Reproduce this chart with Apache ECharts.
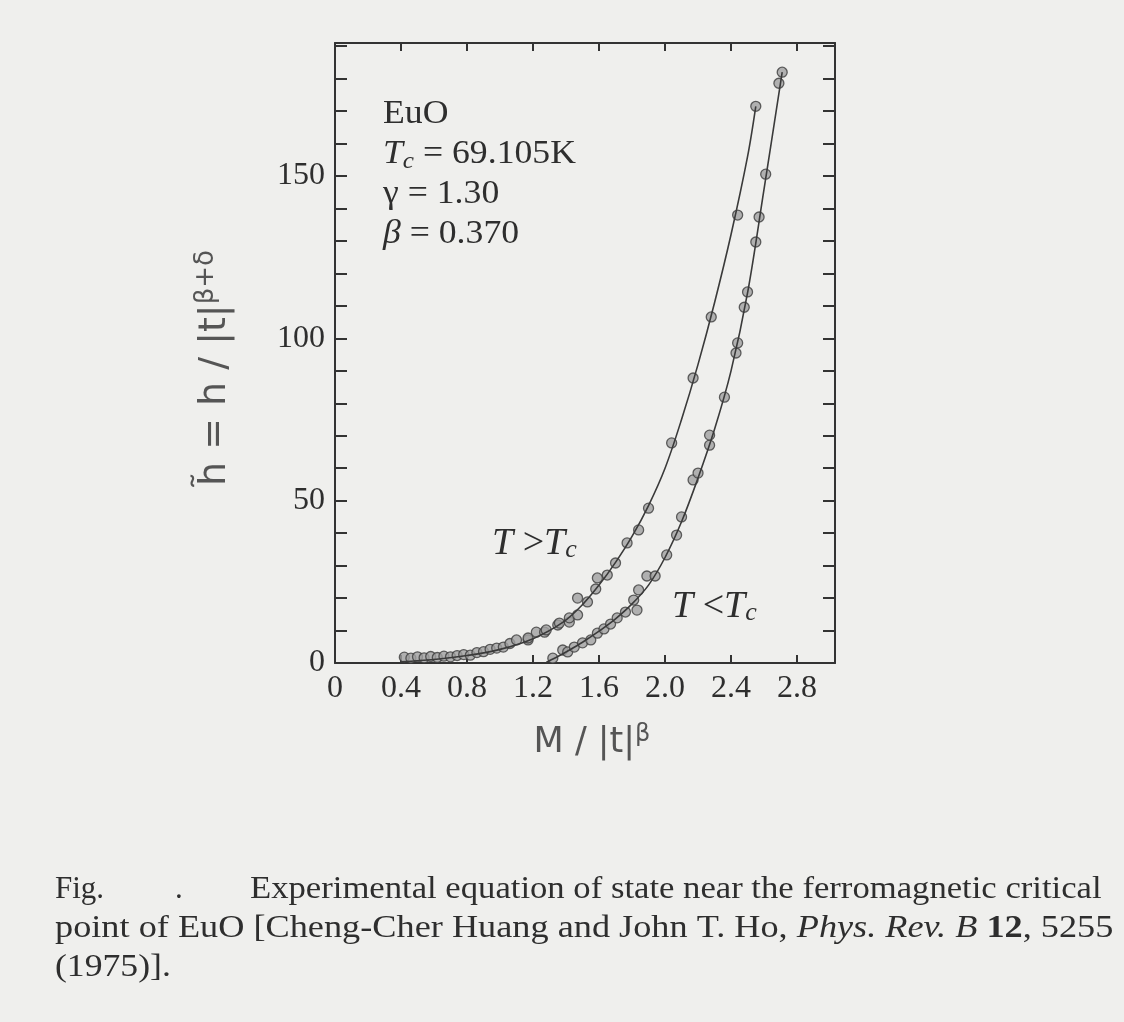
<!DOCTYPE html>
<html>
<head>
<meta charset="UTF-8">
<title>EuO equation of state</title>
<script src="https://cdn.jsdelivr.net/npm/echarts@6.0.0/dist/echarts.min.js"></script>
<style>
    html, body { margin: 0; padding: 0; background: #efefed; }
    #chart { width: 1124px; height: 1022px; }
</style>
</head>
<body>
<div id="chart"></div>
<script type="text/javascript">
    // axis labels that are printed
    var xLabels = [0, 0.4, 0.8, 1.2, 1.6, 2.0, 2.4, 2.8];
    var yLabels = [0, 50, 100, 150];

    // fitted curves
    var aboveFit = [[0.40, 0.4], [0.60, 1.1], [0.80, 2.3], [1.00, 4.2], [1.20, 7.5], [1.38, 12.5],
        [1.50, 18.0], [1.60, 24.0], [1.70, 31.0], [1.80, 39.0], [1.90, 48.5], [2.00, 60.0],
        [2.10, 75.0], [2.20, 92.0], [2.30, 111.0], [2.40, 132.0], [2.50, 156.0], [2.55, 171.5]];
    var belowFit = [[1.28, 0.2], [1.35, 2.0], [1.40, 3.4], [1.50, 6.4], [1.60, 9.8], [1.70, 13.6],
        [1.80, 18.2], [1.90, 24.0], [2.00, 32.5], [2.10, 43.5], [2.20, 57.0], [2.30, 72.0],
        [2.40, 90.0], [2.50, 114.0], [2.60, 146.0], [2.71, 182.0]];

    // measured points
    var abovePts = [[0.42, 1.8], [0.46, 1.5], [0.50, 1.9], [0.54, 1.6], [0.58, 2.0], [0.62, 1.7],
        [0.66, 2.1], [0.70, 1.9], [0.74, 2.3], [0.78, 2.6], [0.82, 2.4], [0.86, 3.2], [0.90, 3.5],
        [0.94, 4.2], [0.98, 4.6], [1.02, 4.9], [1.06, 6.0], [1.10, 7.1], [1.17, 7.1], [1.17, 7.7],
        [1.22, 9.5], [1.27, 9.5], [1.28, 10.2], [1.35, 11.7], [1.36, 12.3], [1.42, 12.6],
        [1.42, 13.9], [1.47, 14.8], [1.47, 20.0], [1.53, 18.8], [1.58, 22.8], [1.59, 26.2],
        [1.65, 27.1], [1.70, 30.8], [1.77, 37.0], [1.84, 41.0], [1.90, 47.7], [2.04, 67.8],
        [2.17, 87.8], [2.28, 106.6], [2.44, 138.0], [2.55, 171.5]];
    var belowPts = [[1.32, 1.5], [1.38, 4.0], [1.41, 3.4], [1.45, 4.9], [1.50, 6.2], [1.55, 7.1],
        [1.59, 9.2], [1.63, 10.5], [1.67, 12.0], [1.71, 13.9], [1.76, 15.7], [1.83, 16.3],
        [1.81, 19.4], [1.84, 22.5], [1.89, 26.8], [1.94, 26.8], [2.01, 33.3], [2.07, 39.4],
        [2.10, 45.0], [2.17, 56.4], [2.20, 58.5], [2.27, 67.1], [2.27, 70.2], [2.36, 81.9],
        [2.43, 95.5], [2.44, 98.6], [2.48, 109.6], [2.50, 114.3], [2.55, 129.7], [2.57, 137.4],
        [2.61, 150.6], [2.69, 178.6], [2.71, 182.0]];

    var serif = '"Liberation Serif", "DejaVu Serif", serif';
    var hand = '"DejaVu Sans", sans-serif';
    var ink = '#2e2e2e';
    var pencil = '#555';

    var myChart = echarts.init(document.getElementById('chart'));

    function frameAxis(extra) {
        var base = {
            type: 'value',
            axisLine: { show: true, onZero: false, lineStyle: { color: '#333', width: 2 } },
            splitLine: { show: false }
        };
        return Object.assign(base, extra);
    }
    var xTick = { show: true, inside: true, length: 8, lineStyle: { color: '#333', width: 2 } };
    var yTick = { show: true, inside: true, length: 12, lineStyle: { color: '#333', width: 2 } };

    option = {
        backgroundColor: '#efefed',
        animation: false,
        grid: {
            left: 335, right: 289, top: 43, bottom: 359,
            containLabel: false,
            outerBoundsMode: 'none'
        },
        xAxis: [
            frameAxis({
                position: 'bottom',
                min: 0, max: 3.03, interval: 0.4,
                axisTick: xTick,
                axisLabel: {
                    margin: 10,
                    color: ink,
                    fontFamily: serif,
                    fontSize: 32,
                    formatter: function (v) {
                        for (var i = 0; i < xLabels.length; i++) {
                            if (Math.abs(v - xLabels[i]) < 1e-6) return v === 0 ? '0' : xLabels[i].toFixed(1);
                        }
                        return '';
                    }
                },
                name: '{n|M / |t|}{s|β}',
                nameLocation: 'middle',
                nameGap: 60,
                nameTextStyle: {
                    padding: [0, 0, 0, 14],
                    rich: {
                        n: { fontFamily: hand, fontSize: 35, color: pencil },
                        s: { fontFamily: hand, fontSize: 24, color: pencil, verticalAlign: 'top', padding: [0, 0, 16, 0] }
                    }
                }
            }),
            frameAxis({
                position: 'top',
                min: 0, max: 3.03, interval: 0.4,
                axisTick: xTick,
                axisLabel: { show: false }
            })
        ],
        yAxis: [
            frameAxis({
                position: 'left',
                min: 0, max: 191, interval: 10,
                axisTick: yTick,
                axisLabel: {
                    margin: 10,
                    color: ink,
                    fontFamily: serif,
                    fontSize: 32,
                    formatter: function (v) {
                        return yLabels.indexOf(v) >= 0 ? String(v) : '';
                    }
                },
                name: '{n|h\u0303 = h / |t|}{s|β+δ}',
                nameLocation: 'middle',
                nameRotate: 90,
                nameGap: 98,
                nameTextStyle: {
                    padding: [0, 30, 0, 0],
                    rich: {
                        n: { fontFamily: hand, fontSize: 38, color: pencil },
                        s: { fontFamily: hand, fontSize: 26, color: pencil, verticalAlign: 'top', padding: [0, 0, 18, 0] }
                    }
                }
            }),
            frameAxis({
                position: 'right',
                min: 0, max: 191, interval: 10,
                axisTick: yTick,
                axisLabel: { show: false }
            })
        ],
        series: [
            {
                name: 'T>Tc fit', type: 'line', data: aboveFit,
                smooth: 0.35, showSymbol: false,
                lineStyle: { color: '#3a3a3a', width: 1.6 }
            },
            {
                name: 'T<Tc fit', type: 'line', data: belowFit,
                smooth: 0.35, showSymbol: false,
                lineStyle: { color: '#3a3a3a', width: 1.6 }
            },
            {
                name: 'T>Tc', type: 'scatter', data: abovePts, symbolSize: 10,
                itemStyle: { color: '#a0a0a0', borderColor: '#3c3c3c', borderWidth: 1.3 }
            },
            {
                name: 'T<Tc', type: 'scatter', data: belowPts, symbolSize: 10,
                itemStyle: { color: '#a0a0a0', borderColor: '#3c3c3c', borderWidth: 1.3 }
            }
        ],
        graphic: [
            {
                type: 'text', left: 383, top: 94, scaleX: 1.05,
                style: {
                    text: 'EuO\n{i|T}{sub|c} = 69.105K\nγ = 1.30\n{i|β} = 0.370',
                    font: '34px ' + serif, fill: ink, lineHeight: 40,
                    rich: {
                        i: { fontStyle: 'italic', fontFamily: serif, fontSize: 34, fill: ink, lineHeight: 40 },
                        sub: { fontStyle: 'italic', fontFamily: serif, fontSize: 24, fill: ink, verticalAlign: 'bottom', lineHeight: 40 }
                    }
                }
            },
            {
                type: 'text', left: 492, top: 525,
                style: {
                    text: '{i|T} >{i|T}{sub|c}',
                    font: '38px ' + serif, fill: ink,
                    rich: {
                        i: { fontStyle: 'italic', fontFamily: serif, fontSize: 38, fill: ink },
                        sub: { fontStyle: 'italic', fontFamily: serif, fontSize: 26, fill: ink, verticalAlign: 'bottom' }
                    }
                }
            },
            {
                type: 'text', left: 672, top: 588,
                style: {
                    text: '{i|T} <{i|T}{sub|c}',
                    font: '38px ' + serif, fill: ink,
                    rich: {
                        i: { fontStyle: 'italic', fontFamily: serif, fontSize: 38, fill: ink },
                        sub: { fontStyle: 'italic', fontFamily: serif, fontSize: 26, fill: ink, verticalAlign: 'bottom' }
                    }
                }
            },
            {
                type: 'text', left: 55, top: 874,
                style: { text: 'Fig.', font: '31px ' + serif, fill: ink }
            },
            {
                type: 'text', left: 175, top: 874,
                style: { text: '.', font: '31px ' + serif, fill: ink }
            },
            {
                type: 'text', left: 250, top: 874, scaleX: 1.118,
                style: { text: 'Experimental equation of state near the ferromagnetic critical', font: '31px ' + serif, fill: ink }
            },
            {
                type: 'text', left: 55, top: 913, scaleX: 1.17,
                style: {
                    text: 'point of EuO [Cheng-Cher Huang and John T. Ho, {i|Phys. Rev. B} {b|12}, 5255',
                    font: '31px ' + serif, fill: ink,
                    rich: {
                        i: { fontStyle: 'italic', fontFamily: serif, fontSize: 31, fill: ink },
                        b: { fontWeight: 'bold', fontFamily: serif, fontSize: 31, fill: ink }
                    }
                }
            },
            {
                type: 'text', left: 55, top: 952, scaleX: 1.15,
                style: { text: '(1975)].', font: '31px ' + serif, fill: ink }
            }
        ]
    };
    myChart.setOption(option);
</script>
</body>
</html>
